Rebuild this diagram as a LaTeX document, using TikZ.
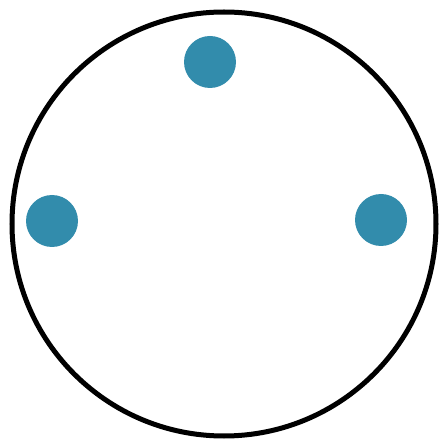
\documentclass[tikz,border=0pt]{standalone}
\usepackage{xcolor}
\usepackage{tikz}
\definecolor{dotblue}{RGB}{50,140,172}
\tikzset{
  rim/.style  = {circle, draw=black, line width=5pt, inner sep=0pt,
                 minimum size=424pt},
  dot/.style  = {circle, fill=dotblue, inner sep=0pt, minimum size=52pt},
}

\begin{document}
\begin{tikzpicture}[x=1pt, y=1pt]
  \useasboundingbox (0,0) rectangle (445,445);
  \node[rim] (ring) at (224,221) {};
  % three dots inside the ring
  \node[dot] (top)   at (210,383) {};
  \node[dot] (left)  at (52,224)  {};
  \node[dot] (right) at (381,225) {};
\end{tikzpicture}
\end{document}
